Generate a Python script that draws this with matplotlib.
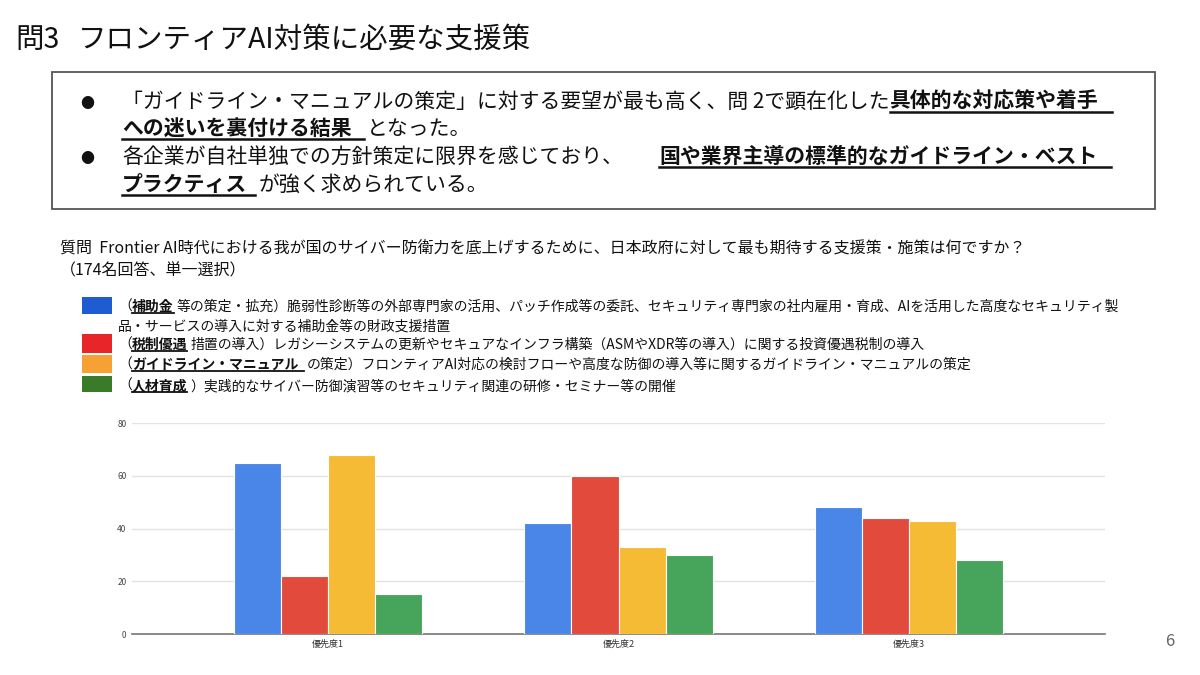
import matplotlib
matplotlib.use('Agg')
import matplotlib.pyplot as plt
from matplotlib.patches import Rectangle
from matplotlib.lines import Line2D
import numpy as np

plt.rcParams['font.family'] = ['Noto Sans CJK JP', 'DejaVu Sans']

# data
categories = ['優先度1', '優先度2', '優先度3']
subsidy = [65, 42, 48]
tax = [22, 60, 44]
guideline = [68, 33, 43]
training = [15, 30, 28]
series = [subsidy, tax, guideline, training]
bar_colors = ['#4a86e8', '#e24b3c', '#f6bb35', '#46a55a']
legend_colors = ['#1f5bd1', '#e8262a', '#f7a134', '#3a7b2a']
y_ticks = [0, 20, 40, 60, 80]

title_runs = ['問3', 'フロンティアAI対策に必要な支援策']
question_lines = ['質問  Frontier AI時代における我が国のサイバー防衛力を底上げするために、日本政府に対して最も期待する支援策・施策は何ですか？',
                  '（174名回答、単一選択）']

# runs: (text, bold, underline extension in px or None, extra gap after in px)
bullet_lines = [
    [('「ガイドライン・マニュアルの策定」に対する要望が最も高く、問 2で顕在化した', False, None, 0),
     ('具体的な対応策や着手', True, 14, 0)],
    [('への迷いを裏付ける結果', True, 12, 0), ('となった。', False, None, 0)],
    [('各企業が自社単独での方針策定に限界を感じており、', False, None, 36),
     ('国や業界主導の標準的なガイドライン・ベスト', True, 14, 0)],
    [('プラクティス', True, 8, 0), ('が強く求められている。', False, None, 0)],
]
legend_lines = [
    [('（', False, None, 0), ('補助金', True, 0, 0),
     ('等の策定・拡充）脆弱性診断等の外部専門家の活用、パッチ作成等の委託、セキュリティ専門家の社内雇用・育成、AIを活用した高度なセキュリティ製', False, None, 0)],
    [('品・サービスの導入に対する補助金等の財政支援措置', False, None, 0)],
    [('（', False, None, 0), ('税制優遇', True, 0, 0),
     ('措置の導入）レガシーシステムの更新やセキュアなインフラ構築（ASMやXDR等の導入）に関する投資優遇税制の導入', False, None, 0)],
    [('（', False, None, 0), ('ガイドライン・マニュアル', True, 6, 0),
     ('の策定）フロンティアAI対応の検討フローや高度な防御の導入等に関するガイドライン・マニュアルの策定', False, None, 0)],
    [('（', False, None, 0), ('人材育成', True, 0, 0),
     ('）実践的なサイバー防御演習等のセキュリティ関連の研修・セミナー等の開催', False, None, 0)],
]

W, H = 1200, 675
fig = plt.figure(figsize=(12, 6.75), dpi=100)
renderer = fig.canvas.get_renderer()


def fx(px):
    return px / W


def fy(py):
    return 1 - py / H


def put_runs(x, y, runs, size, ul_off=3, ul_lw=1.5):
    # x, y in pixels from top-left; y is the baseline
    for txt, bold, ul, gap in runs:
        t = fig.text(fx(x), fy(y), txt, fontsize=size,
                     fontweight='bold' if bold else 'normal',
                     ha='left', va='baseline', color='#111111')
        bb = t.get_window_extent(renderer)
        x1 = bb.x1
        if ul is not None:
            x1 += ul
            fig.add_artist(Line2D([fx(x), fx(x1)], [fy(y + ul_off)] * 2,
                                  color='#111111', lw=ul_lw))
            x1 += 3
        x = x1 + gap


# title
put_runs(15, 48, [(title_runs[0], False, None, 18), (title_runs[1], False, None, 0)], 20.5)

# summary box
fig.add_artist(Rectangle((fx(52), fy(209)), fx(1155) - fx(52), fy(72) - fy(209),
                         fill=False, edgecolor='#555555', lw=1.3, transform=fig.transFigure))
for by in [108, 163]:
    fig.text(fx(80), fy(by), '●', fontsize=10, ha='left', va='baseline', color='#111111')
for line, by in zip(bullet_lines, [108, 135, 163, 191]):
    put_runs(122, by, line, 15, ul_off=4, ul_lw=1.8)

# question
for line, by in zip(question_lines, [253, 275]):
    fig.text(fx(60), fy(by), line, fontsize=11.5, ha='left', va='baseline', color='#111111')

# legend
square_rows = [(297, 314), (334, 353), (355, 373), (376, 392)]
for (t0, t1), c in zip(square_rows, legend_colors):
    fig.add_artist(Rectangle((fx(82), fy(t1)), fx(112) - fx(82), fy(t0) - fy(t1),
                             facecolor=c, edgecolor='none', transform=fig.transFigure))
for line, by in zip(legend_lines, [311, 331, 349, 369, 390]):
    put_runs(118, by, line, 10, ul_off=2, ul_lw=1.3)

# chart
ax = fig.add_axes([fx(132), fy(634), fx(1105) - fx(132), fy(423) - fy(634)])
x = np.arange(len(categories))
bw = 0.162
for i, (vals, c) in enumerate(zip(series, bar_colors)):
    ax.bar(x + (i - 1.5) * bw, vals, width=bw, color=c, edgecolor='white', linewidth=0.8, zorder=3)
ax.set_xlim(-0.676, 2.676)
ax.set_ylim(0, 80)
ax.set_yticks(y_ticks)
ax.set_yticklabels([str(v) for v in y_ticks], fontsize=6, color='#444444')
ax.set_xticks(x)
ax.set_xticklabels(categories, fontsize=6.5, color='#333333')
ax.tick_params(length=0, pad=4)
ax.grid(axis='y', color='#e2e2e2', lw=1, zorder=0)
for s in ['top', 'right', 'left']:
    ax.spines[s].set_visible(False)
ax.spines['bottom'].set_color('#777777')
ax.spines['bottom'].set_linewidth(1.2)

# page number
fig.text(fx(1170), fy(646), '6', fontsize=12, ha='center', va='baseline', color='#666666')

fig.savefig('out.png', dpi=100)
